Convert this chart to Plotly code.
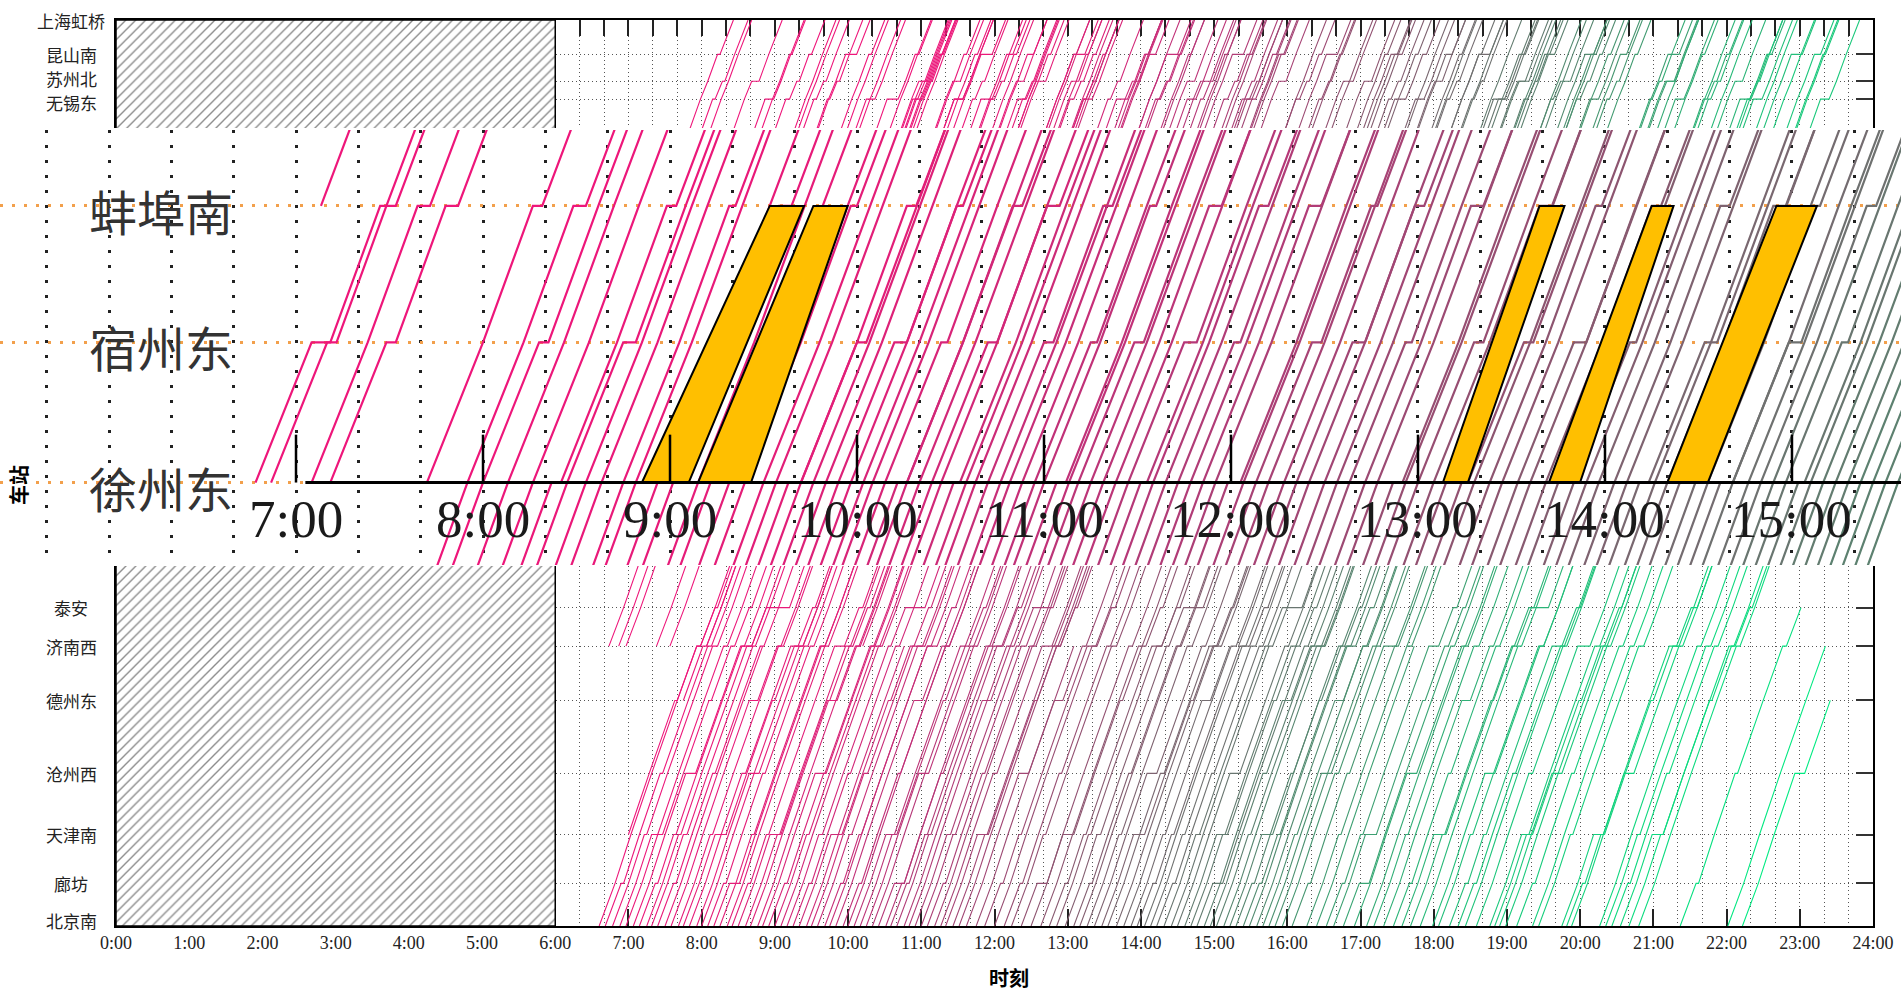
import numpy as np
import plotly.graph_objects as go

# ---------------- route (Beijing -> Shanghai) ----------------
stations = ["北京南", "廊坊", "天津南", "沧州西", "德州东", "济南西", "泰安", "曲阜东",
            "滕州东", "枣庄", "徐州东", "宿州东", "蚌埠南", "定远", "滁州", "南京南",
            "镇江南", "丹阳北", "常州北", "无锡东", "苏州北", "昆山南", "上海虹桥"]
station_km = [0, 62, 133, 222, 328, 407, 463, 534, 589, 627, 688, 767, 844, 897,
              960, 1023, 1087, 1112, 1153, 1203, 1229, 1268, 1318]
# running minutes between consecutive stations
run_min = [13, 13, 17, 21, 16, 12, 14, 11, 8, 12, 16, 15, 11, 12, 13, 13, 6, 8, 10, 6, 8, 11]

# stop patterns: station index -> dwell minutes
stop_patterns = {
    "A": {5: 3, 15: 3},
    "B": {2: 2, 5: 4, 10: 3, 15: 3, 18: 2, 21: 2},
    "C": {1: 2, 3: 2, 5: 3, 7: 2, 10: 3, 12: 2, 15: 3, 19: 2, 20: 2},
    "D": {2: 9, 4: 2, 5: 3, 6: 2, 10: 3, 14: 2, 15: 3, 16: 2, 20: 6},
    "E": {3: 8, 5: 3, 9: 2, 10: 3, 15: 4, 18: 2, 19: 7},
    "F": {1: 2, 2: 2, 5: 8, 6: 3, 10: 3, 11: 2, 15: 3, 17: 2, 21: 9},
    "G": {4: 7, 5: 3, 8: 2, 10: 4, 13: 2, 15: 3, 19: 3, 20: 2, 21: 2},
    "H": {2: 3, 5: 2, 6: 16, 10: 3, 15: 3, 16: 2, 19: 9, 21: 3},
    "I": {1: 8, 5: 3, 10: 3, 15: 3, 20: 8},
    "J": {3: 3, 5: 10, 10: 3, 15: 3, 18: 3, 21: 5},
}

# ---------------- departures from 北京南 ----------------
bj_dep = ["6:36", "6:41", "6:47", "6:53", "6:58", "7:04", "7:09", "7:15", "7:19", "7:24", "7:30", "7:35", "7:41", "7:45", "7:50", "7:56",
          "8:00", "8:05", "8:10", "8:15", "8:21", "8:25", "8:30", "8:36", "8:40", "8:46", "8:50", "8:55",
          "9:00", "9:05", "9:10", "9:15", "9:20", "9:26", "9:30", "9:35", "9:41", "9:45", "9:50", "9:56",
          "10:00", "10:05", "10:10", "10:15", "10:20", "10:25", "10:31", "10:35", "10:40", "10:46", "10:50", "10:55",
          "11:00", "11:05", "11:11", "11:16", "11:20", "11:26", "11:31", "11:37", "11:45", "11:52",
          "12:00", "12:08", "12:14", "12:22", "12:30", "12:38", "12:45", "12:51", "12:58",
          "13:05", "13:10", "13:16", "13:22", "13:28", "13:33", "13:40", "13:46", "13:52", "13:57",
          "14:03", "14:08", "14:13", "14:19", "14:25", "14:30", "14:36", "14:41", "14:46", "14:52", "14:57",
          "15:02", "15:08", "15:13", "15:18", "15:24", "15:29", "15:35", "15:40", "15:45", "15:50", "15:56",
          "16:04", "16:16", "16:24", "16:32", "16:38", "16:46", "16:55",
          "17:05", "17:11", "17:19", "17:27", "17:34", "17:41", "17:49", "17:59",
          "18:04", "18:13", "18:20", "18:26", "18:35", "18:46", "18:50", "18:54", "18:59",
          "19:08", "19:21", "19:26", "19:45", "19:49", "19:53",
          "20:16", "20:21", "20:26", "20:33", "20:40", "20:48",
          "21:22", "22:01", "22:13"]
bj_pattern = ("ACBDAEFBHCAGBDJE" "ACIBAFDBGAEC" "BAHCDAJBFAGC" "ADBEAICFBGAH" "BCAJDBAEGF"
              "ACBIDAFBH" "CABEDJAGBF" "ABCHAEDBIGJ" "BADCFAGBEAJ" "CBAFDIE" "ABGCDHAE"
              "BFCAJDBEA" "CABDFE" "ABCDBA" "CAE")
# trains from 北京南 that terminate short of 上海虹桥
bj_short_term = {"7:30": 5, "9:26": 5, "11:37": 5, "13:46": 5, "16:24": 5, "18:20": 15,
                 "18:46": 15, "19:08": 15, "19:21": 15, "19:26": 15, "19:45": 12, "19:49": 10,
                 "19:53": 15, "20:16": 10, "20:21": 12, "20:26": 9, "20:33": 10, "20:40": 7,
                 "20:48": 10, "21:22": 6, "22:01": 5, "22:13": 4}

# ---------------- trains starting at intermediate stations ----------------
extra_origin = [5, 5, 5, 2, 5, 5, 4, 5, 5, 5, 5, 5] + [15] * 26
extra_dep = ["6:44", "6:52", "6:58", "7:00", "7:23", "7:34", "7:45", "8:04", "10:12", "12:47", "15:20", "17:38",
             "7:20", "7:32", "7:39", "7:56", "8:13", "8:19", "8:32", "8:48", "8:55", "9:05", "9:24", "9:31",
             "9:53", "10:16", "10:23", "10:42", "10:48",
             "12:40", "14:50", "16:35", "18:10", "19:30", "20:20", "21:05", "21:40", "22:10"]
extra_term = [22, 22, 15, 22, 22, 22, 22, 22, 22, 22, 22, 15] + [22] * 26
extra_pattern = "ACBDEACGBACA" "BCADEBGACFBAHCABE" "ACBABCACA"

# ---------------- inset: 徐州东 - 蚌埠南 ----------------
inset_nodes_km = [630, 688, 767, 844, 900]      # below, 徐州东, 宿州东, 蚌埠南, above
inset_run = [12, 18, 16, 12]
inset_xz_origin = ["6:47", "6:52", "7:05", "7:11", "7:42"]
inset_xz_origin_sz = [6, 3, 0, 3, 0]
inset_xz_origin_bb = [5, 0, 4, 4, 3]
inset_bb_origin = ["7:08"]
inset_through = ["7:55", "8:00", "8:08", "8:16", "8:22", "8:27", "8:33", "8:38", "8:45", "8:49",
                 "8:56", "9:01", "9:09", "9:13", "9:19", "9:24", "9:30", "9:34", "9:38", "9:42",
                 "9:46", "9:50", "9:54", "9:58", "10:02", "10:05", "10:09", "10:13", "10:16", "10:20",
                 "10:24", "10:27", "10:31", "10:35", "10:38", "10:42", "10:46", "10:49", "10:53", "10:57",
                 "11:00", "11:04", "11:08", "11:11", "11:15", "11:19", "11:23", "11:27", "11:31", "11:35",
                 "11:39", "11:43", "11:47", "11:51", "11:55", "11:59", "12:04", "12:08", "12:12", "12:17",
                 "12:21", "12:25", "12:30", "12:34", "12:38", "12:43", "12:47", "12:52", "12:56", "13:00",
                 "13:05", "13:09", "13:14", "13:18", "13:23", "13:27", "13:32", "13:36", "13:41", "13:45",
                 "13:50", "13:54", "13:58", "14:03", "14:07", "14:11", "14:16", "14:20", "14:24", "14:29",
                 "14:33", "14:37", "14:41", "14:46", "14:50", "14:54", "14:58", "15:02", "15:06", "15:10",
                 "15:14", "15:18", "15:22", "15:26", "15:30", "15:34"]
# dwell minutes at 徐州东 / 宿州东 / 蚌埠南, one digit per through train
inset_dw_xz = ("0000300000" "0002000040" "0000000300" "0020000000" "0300000020"
               "0000040000" "0000000300" "0020000000" "0000030000" "0400000200" "000000")
inset_dw_sz = ("0300040000" "2000400030" "0040002000" "3000030002" "0003000400"
               "0200000300" "4000200003" "0030004000" "2000040003" "0040002000" "030003")
inset_dw_bb = ("4000300020" "0400020003" "0002000300" "0400030000" "2000040003"
               "0004000200" "0300040000" "4000200030" "0003000400" "2000300040" "002000")
# occupied windows between 徐州东 and 蚌埠南 (bottom-left, bottom-right, top-left, top-right)
win_bl = ["8:51", "9:09", "13:08", "13:42", "14:20"]
win_br = ["9:06", "9:26", "13:16", "13:52", "14:33"]
win_tl = ["9:32", "9:46", "13:39", "14:15", "14:55"]
win_tr = ["9:43", "9:57", "13:47", "14:22", "15:08"]
inset_hours = [7, 8, 9, 10, 11, 12, 13, 14, 15]

# ---------------- colours ----------------
color_stops = [(0.00, (238, 22, 122)), (0.12, (226, 30, 120)), (0.25, (182, 56, 120)),
               (0.38, (142, 84, 112)), (0.48, (112, 112, 112)), (0.60, (70, 150, 112)),
               (0.75, (30, 195, 122)), (1.00, (0, 235, 130))]


def mix(p):
    p = min(max(p, 0.0), 1.0)
    for (p0, c0), (p1, c1) in zip(color_stops[:-1], color_stops[1:]):
        if p <= p1:
            f = (p - p0) / (p1 - p0) if p1 > p0 else 0
            r, g, b = (round(a + (b_ - a) * f) for a, b_ in zip(c0, c1))
            return f"rgb({r},{g},{b})"
    r, g, b = color_stops[-1][1]
    return f"rgb({r},{g},{b})"


def hm(s):
    h, m = s.split(":")
    return int(h) + int(m) / 60


cum_run = np.concatenate([[0], np.cumsum(run_min)])


def train_path(origin, dep, term, pat):
    stops = stop_patterns[pat]
    t = dep
    xs, ys = [t], [station_km[origin]]
    for s in range(origin + 1, term + 1):
        t += run_min[s - 1] / 60
        xs.append(t)
        ys.append(station_km[s])
        if s < term and s in stops:
            t += stops[s] / 60
            xs.append(t)
            ys.append(station_km[s])
    return xs, ys


main_paths = []
for i, d in enumerate(bj_dep):
    term = bj_short_term.get(d, 22)
    xs, ys = train_path(0, hm(d), term, bj_pattern[i % len(bj_pattern)])
    main_paths.append((xs, ys, (hm(d) - 6.5) / 15.8))
for o, d, tm, pt in zip(extra_origin, extra_dep, extra_term, extra_pattern):
    xs, ys = train_path(o, hm(d), tm, pt)
    eq = hm(d) - cum_run[o] / 60
    main_paths.append((xs, ys, (eq - 6.5) / 15.8))


def inset_path(start, t0, dwell):
    t = t0
    xs, ys = [t], [inset_nodes_km[start]]
    for n in range(start + 1, len(inset_nodes_km)):
        t += inset_run[n - 1] / 60
        xs.append(t)
        ys.append(inset_nodes_km[n])
        if dwell.get(n, 0):
            t += dwell[n] / 60
            xs.append(t)
            ys.append(inset_nodes_km[n])
    return xs, ys


inset_paths = []
for d, a, b in zip(inset_xz_origin, inset_xz_origin_sz, inset_xz_origin_bb):
    xs, ys = inset_path(1, hm(d), {2: a, 3: b})
    inset_paths.append((xs, ys, (hm(d) - 8) / 14))
for d in inset_bb_origin:
    xs, ys = inset_path(3, hm(d), {})
    inset_paths.append((xs, ys, 0.0))
for i, d in enumerate(inset_through):
    dw = {1: int(inset_dw_xz[i]), 2: int(inset_dw_sz[i]), 3: int(inset_dw_bb[i])}
    xs, ys = inset_path(0, hm(d) - inset_run[0] / 60, dw)
    inset_paths.append((xs, ys, (hm(d) - 8) / 14))

fig = go.Figure()


def add_groups(paths, xa, ya, width):
    groups = {}
    for xs, ys, p in paths:
        key = int(round(min(max(p, 0), 1) * 60))
        gx, gy = groups.setdefault(key, ([], []))
        gx.extend(list(xs) + [None])
        gy.extend(list(ys) + [None])
    for key in sorted(groups):
        gx, gy = groups[key]
        fig.add_trace(go.Scatter(x=gx, y=gy, mode="lines", xaxis=xa, yaxis=ya,
                                 line=dict(color=mix(key / 60), width=width),
                                 hoverinfo="skip", showlegend=False))


BOT_RANGE = [0, 523.5]
TOP_RANGE = [1161, 1318]

add_groups(main_paths, "x", "y", 1.1)
add_groups(main_paths, "x2", "y2", 1.1)

# hatched night period 0:00-6:00
hatch = dict(shape="/", fgcolor="#1a1a1a", bgcolor="white", size=7, solidity=0.2)
fig.add_trace(go.Scatter(x=[6, 6, 0, 0], y=[BOT_RANGE[1], 0, 0, BOT_RANGE[1]], mode="lines",
                         fill="toself", fillcolor="white", fillpattern=hatch,
                         line=dict(color="black", width=1.5), xaxis="x", yaxis="y",
                         hoverinfo="skip", showlegend=False))
fig.add_trace(go.Scatter(x=[6, 6, 0, 0], y=[TOP_RANGE[0], TOP_RANGE[1], TOP_RANGE[1], TOP_RANGE[0]],
                         mode="lines", fill="toself", fillcolor="white", fillpattern=hatch,
                         line=dict(color="black", width=1.5), xaxis="x2", yaxis="y2",
                         hoverinfo="skip", showlegend=False))

# inset lines and occupied windows
add_groups(inset_paths, "x3", "y3", 2.2)
for bl, br, tl, tr in zip(win_bl, win_br, win_tl, win_tr):
    fig.add_trace(go.Scatter(x=[hm(bl), hm(br), hm(tr), hm(tl), hm(bl)],
                             y=[station_km[10], station_km[10], station_km[12], station_km[12], station_km[10]],
                             mode="lines", fill="toself", fillcolor="#FFBF00",
                             line=dict(color="black", width=2), xaxis="x3", yaxis="y3",
                             hoverinfo="skip", showlegend=False))

W, H = 1901, 991


def py(px):
    return 1 - px / H


X_DOM = [116 / W, 1873 / W]
grid_main = dict(showgrid=True, gridcolor="#555555", griddash="1px,3px", gridwidth=1)

fig.update_layout(
    width=W, height=H, autosize=False,
    margin=dict(l=0, r=0, t=0, b=0, pad=0, autoexpand=False),
    paper_bgcolor="white", plot_bgcolor="white",
    showlegend=False,
    xaxis=dict(domain=X_DOM, anchor="y", range=[0, 24], tickmode="array",
               tickvals=list(range(25)), ticktext=[f"{h}:00" for h in range(25)],
               ticks="inside", ticklen=17, tickwidth=1.5, tickcolor="#222",
               showline=True, linecolor="black", linewidth=1.5, zeroline=False,
               minor=dict(dtick=1 / 3, tick0=0, ticks="", showgrid=True, gridcolor="#555555",
                          griddash="1px,3px", gridwidth=1),
               tickfont=dict(family="Liberation Serif", size=18, color="#222"),
               automargin=False, layer="below traces", fixedrange=True, **grid_main),
    yaxis=dict(domain=[py(926), py(566)], anchor="x", range=BOT_RANGE, side="right",
               tickmode="array", tickvals=station_km[:7], showticklabels=False,
               ticks="inside", ticklen=17, tickwidth=2, tickcolor="#333",
               showline=True, mirror=True, linecolor="black", linewidth=1.5,
               zeroline=False, automargin=False, layer="below traces", fixedrange=True, **grid_main),
    xaxis2=dict(domain=X_DOM, anchor="y2", side="top", range=[0, 24], tick0=0, dtick=1 / 3,
                ticks="inside", ticklen=16, tickwidth=1.5, tickcolor="#222", showticklabels=False,
                showline=True, linecolor="black", linewidth=1.5, zeroline=False,
                automargin=False, layer="below traces", fixedrange=True, **grid_main),
    yaxis2=dict(domain=[py(128), py(20)], anchor="x2", range=TOP_RANGE, side="right",
                tickmode="array", tickvals=station_km[19:], showticklabels=False,
                ticks="inside", ticklen=17, tickwidth=2, tickcolor="#333",
                showline=True, mirror=True, linecolor="black", linewidth=1.5,
                zeroline=False, automargin=False, layer="below traces", fixedrange=True, **grid_main),
    xaxis3=dict(domain=[0, 1], anchor="y3", range=[5.417, 15.583], tick0=0, dtick=1 / 3,
                showticklabels=False, ticks="", showline=False, zeroline=False,
                showgrid=True, gridcolor="#222222", griddash="3px,12px", gridwidth=2.5,
                automargin=False, fixedrange=True),
    yaxis3=dict(domain=[py(565), py(130)], anchor="x3", range=[641.5, 886.8],
                tickmode="array", tickvals=[station_km[10], station_km[11], station_km[12]],
                showticklabels=False, ticks="", showline=False, zeroline=False,
                showgrid=True, gridcolor="#F2A04C", griddash="3px,9px", gridwidth=3,
                automargin=False, fixedrange=True),
)

shapes = [dict(type="line", xref="x3", yref="y3", x0=7.05, x1=15.583,
               y0=station_km[10], y1=station_km[10], line=dict(color="black", width=3))]
for h in inset_hours:
    shapes.append(dict(type="line", xref="x3", yref="y3", x0=h, x1=h,
                       y0=station_km[10], y1=station_km[10] + 27,
                       line=dict(color="black", width=2.5)))
fig.update_layout(shapes=shapes)

ann = []
cjk = "Noto Sans CJK SC"
label_shift = {0: 6, 19: -3, 20: 3}
for i, name in enumerate(stations):
    km = station_km[i]
    if BOT_RANGE[0] <= km <= BOT_RANGE[1]:
        yref = "y"
    elif TOP_RANGE[0] <= km <= TOP_RANGE[1]:
        yref = "y2"
    else:
        continue
    ann.append(dict(x=71 / W, xref="paper", y=km, yref=yref, text=name, showarrow=False,
                    xanchor="center", yanchor="middle", yshift=label_shift.get(i, 0),
                    font=dict(family=cjk, size=17, color="#222")))
for i in (10, 11, 12):
    ann.append(dict(x=161 / W, xref="paper", y=station_km[i], yref="y3", text=stations[i],
                    showarrow=False, xanchor="center", yanchor="middle", yshift=-4,
                    font=dict(family=cjk, size=48, color="#333333")))
for h in inset_hours:
    ann.append(dict(x=h, xref="x3", y=py(519), yref="paper", text=f"{h}:00", showarrow=False,
                    xanchor="center", yanchor="middle",
                    font=dict(family="Liberation Serif", size=53, color="#1a1a1a")))
ann.append(dict(x=18 / W, xref="paper", y=py(485), yref="paper", text="<b>车站</b>",
                textangle=-90, showarrow=False, xanchor="center", yanchor="middle",
                font=dict(family=cjk, size=20, color="black")))
ann.append(dict(x=1009 / W, xref="paper", y=py(977), yref="paper", text="<b>时刻</b>",
                showarrow=False, xanchor="center", yanchor="middle",
                font=dict(family=cjk, size=20, color="black")))
fig.update_layout(annotations=ann)

fig.write_html("out.html", include_plotlyjs=True, config={"displayModeBar": False})
